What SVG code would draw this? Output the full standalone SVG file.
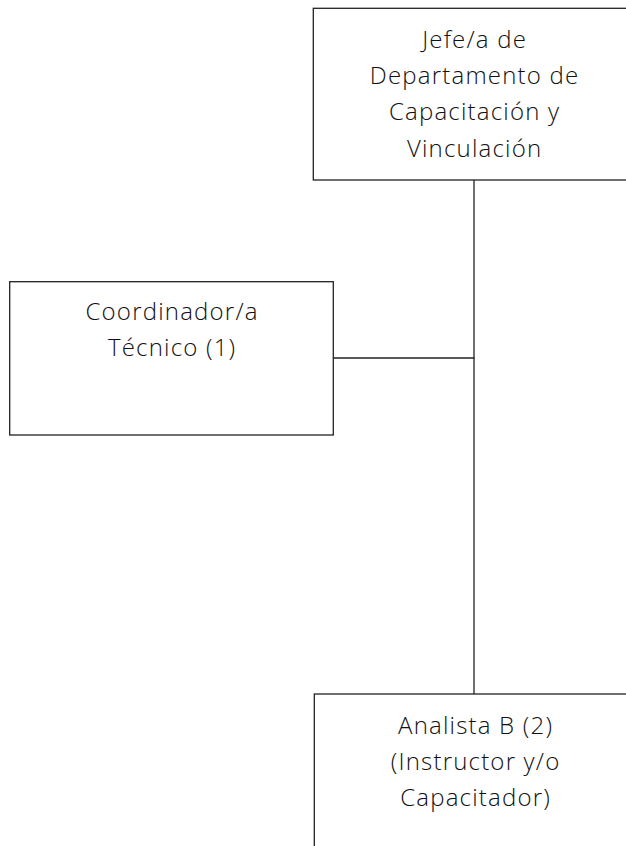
<svg xmlns="http://www.w3.org/2000/svg" width="626" height="846" viewBox="0 0 626 846">
<style>
.box{fill:#fff;stroke:#222;stroke-width:1.3}
.lbl{font-family:"Open Sans","Noto Sans",sans-serif;font-weight:300;font-size:24px;letter-spacing:1.2px;fill:#111;text-anchor:middle}
.conn{stroke:#222;stroke-width:1.3;fill:none}
</style>
<rect width="626" height="846" fill="#fff"/>
<g id="connectors">
<line class="conn" x1="474" y1="180" x2="474" y2="694"/>
<line class="conn" x1="333.3" y1="358" x2="474.6" y2="358"/>
</g>
<g id="jefe">
<rect class="box" x="313.3" y="8.3" width="330" height="171.7"/>
<text class="lbl" x="474.6" y="48">Jefe/a de</text>
<text class="lbl" x="474.6" y="84">Departamento de</text>
<text class="lbl" x="474.6" y="120">Capacitación y</text>
<text class="lbl" x="474.6" y="157">Vinculación</text>
</g>
<g id="coordinador">
<rect class="box" x="9.7" y="281.7" width="323.6" height="153.3"/>
<text class="lbl" x="172.1" y="320">Coordinador/a</text>
<text class="lbl" x="172.1" y="356">Técnico (1)</text>
</g>
<g id="analista">
<rect class="box" x="314.3" y="694" width="330" height="180"/>
<text class="lbl" x="475.6" y="734">Analista B (2)</text>
<text class="lbl" x="475.6" y="770">(Instructor y/o</text>
<text class="lbl" x="475.6" y="806">Capacitador)</text>
</g>
</svg>
